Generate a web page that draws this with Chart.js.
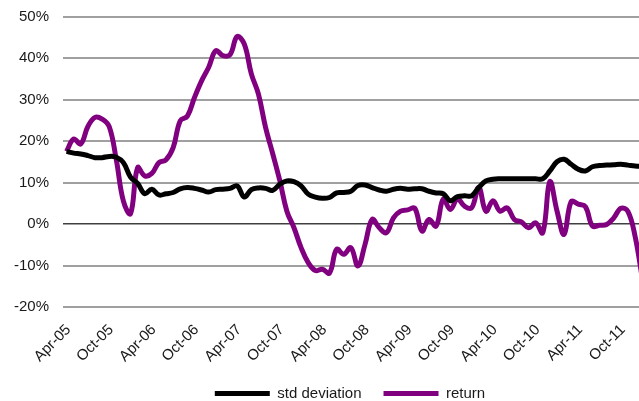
<!DOCTYPE html>
<html>
<head>
<meta charset="utf-8">
<script src="https://cdn.jsdelivr.net/npm/chart.js@4.4.1/dist/chart.umd.min.js"></script>
<style>
  html, body { margin: 0; padding: 0; overflow: hidden; background: #fff; }
  #wrap { width: 639px; height: 401px; overflow: hidden; }
</style>
</head>
<body>
<div id="wrap">
  <canvas id="myChart" width="700" height="401"></canvas>
</div>
<script>
// months, Apr-05 .. Mar-12
const months = [
  'Apr-05','May-05','Jun-05','Jul-05','Aug-05','Sep-05','Oct-05','Nov-05','Dec-05',
  'Jan-06','Feb-06','Mar-06','Apr-06','May-06','Jun-06','Jul-06','Aug-06','Sep-06','Oct-06','Nov-06','Dec-06',
  'Jan-07','Feb-07','Mar-07','Apr-07','May-07','Jun-07','Jul-07','Aug-07','Sep-07','Oct-07','Nov-07','Dec-07',
  'Jan-08','Feb-08','Mar-08','Apr-08','May-08','Jun-08','Jul-08','Aug-08','Sep-08','Oct-08','Nov-08','Dec-08',
  'Jan-09','Feb-09','Mar-09','Apr-09','May-09','Jun-09','Jul-09','Aug-09','Sep-09','Oct-09','Nov-09','Dec-09',
  'Jan-10','Feb-10','Mar-10','Apr-10','May-10','Jun-10','Jul-10','Aug-10','Sep-10','Oct-10','Nov-10','Dec-10',
  'Jan-11','Feb-11','Mar-11','Apr-11','May-11','Jun-11','Jul-11','Aug-11','Sep-11','Oct-11','Nov-11','Dec-11',
  'Jan-12','Feb-12','Mar-12'
];

// std deviation (%)
const stdDeviation = [
  17.5, 17.1, 16.9, 16.5, 16.0, 16.0, 16.3, 16.1, 14.8, 11.3, 9.8, 7.3,
  8.4, 7.0, 7.3, 7.6, 8.5, 8.8, 8.6, 8.2, 7.7, 8.3, 8.4, 8.6,
  9.2, 6.5, 8.3, 8.7, 8.6, 8.1, 9.6, 10.4, 10.2, 9.2, 7.2, 6.5,
  6.2, 6.4, 7.5, 7.6, 7.9, 9.3, 9.4, 8.8, 8.2, 7.9, 8.4, 8.6,
  8.4, 8.5, 8.5, 7.9, 7.5, 7.3, 5.6, 6.6, 6.8, 6.8, 8.8, 10.4,
  10.8, 10.9, 10.9, 10.9, 10.9, 10.9, 10.9, 10.9, 12.8, 15.0, 15.6, 14.4,
  13.2, 12.8, 13.8, 14.1, 14.2, 14.3, 14.4, 14.2, 14.0, 13.9, null, null
];

// return (%)
const returns = [
  17.5, 20.5, 19.3, 23.5, 25.7, 25.3, 23.5, 15.5, 5.5, 2.5, 13.6, 11.6,
  12.2, 14.8, 15.5, 18.4, 24.9, 26.0, 30.5, 34.5, 37.8, 41.8, 40.6, 40.8,
  45.2, 43.4, 36.2, 31.3, 23.3, 17.0, 10.5, 3.1, -0.9, -5.7, -9.3, -11.2,
  -10.9, -11.8, -6.1, -7.3, -5.7, -10.1, -4.9, 1.1, -0.9, -2.1, 1.5, 3.1,
  3.4, 3.8, -1.7, 1.1, -0.5, 6.0, 3.5, 6.0, 4.3, 3.9, 8.8, 3.1,
  5.6, 3.1, 3.9, 1.1, 0.5, -0.9, 0.3, -2.1, 10.2, 3.2, -2.5, 5.4,
  4.8, 4.2, -0.5, -0.3, -0.1, 1.5, 3.8, 3.0, -3.0, -13.0, null, null
];

const fontFam = "'Liberation Sans', Arial, sans-serif";

const ctx = document.getElementById('myChart');

new Chart(ctx, {
  type: 'line',
  data: {
    labels: months,
    datasets: [
      {
        label: 'std deviation',
        data: stdDeviation,
        borderColor: '#000000',
        backgroundColor: '#000000',
        borderWidth: 5,
        pointRadius: 0,
        tension: 0.4,
        fill: false
      },
      {
        label: 'return',
        data: returns,
        borderColor: '#800080',
        backgroundColor: '#800080',
        borderWidth: 5,
        pointRadius: 0,
        tension: 0.4,
        fill: false
      }
    ]
  },
  options: {
    responsive: false,
    animation: false,
    layout: {
      padding: { top: 16.6, bottom: -10, left: 0, right: 0 }
    },
    scales: {
      x: {
        offset: true,
        grid: { display: false },
        border: { display: false },
        ticks: {
          autoSkip: false,
          minRotation: 45,
          maxRotation: 45,
          padding: 6,
          labelOffset: 2,
          color: '#1a1a1a',
          font: { family: fontFam, size: 15 },
          callback: function (val, i) {
            return i % 6 === 0 ? months[i] : '';
          }
        },
        afterFit: function (s) { s.height = 57; }
      },
      y: {
        min: -20,
        max: 50,
        border: { display: false },
        grid: {
          drawTicks: false,
          color: c => (c.tick && c.tick.value === 0) ? '#404040' : '#a0a0a0',
          lineWidth: c => (c.tick && c.tick.value === 0) ? 1.5 : 2
        },
        ticks: {
          stepSize: 10,
          padding: 14,
          color: '#1a1a1a',
          font: { family: fontFam, size: 15 },
          callback: v => v + '%'
        },
        afterFit: function (s) {
          s.width = 63;
          s.paddingTop = 0;
          s.paddingBottom = 0;
        }
      },
      y2: {
        position: 'right',
        grid: { display: false },
        border: { display: false },
        ticks: { display: false },
        afterFit: function (s) {
          s.width = 40;
          s.paddingTop = 0;
          s.paddingBottom = 0;
        }
      }
    },
    plugins: {
      tooltip: { enabled: false },
      legend: {
        position: 'bottom',
        labels: {
          boxWidth: 55,
          boxHeight: 5,
          padding: 22,
          color: '#1a1a1a',
          font: { family: fontFam, size: 15 },
          generateLabels: function (chart) {
            return chart.data.datasets.map((d, i) => ({
              text: d.label,
              fillStyle: d.borderColor,
              strokeStyle: d.borderColor,
              lineWidth: 0,
              fontColor: '#1a1a1a',
              datasetIndex: i
            }));
          }
        }
      }
    }
  }
});
</script>
</body>
</html>
